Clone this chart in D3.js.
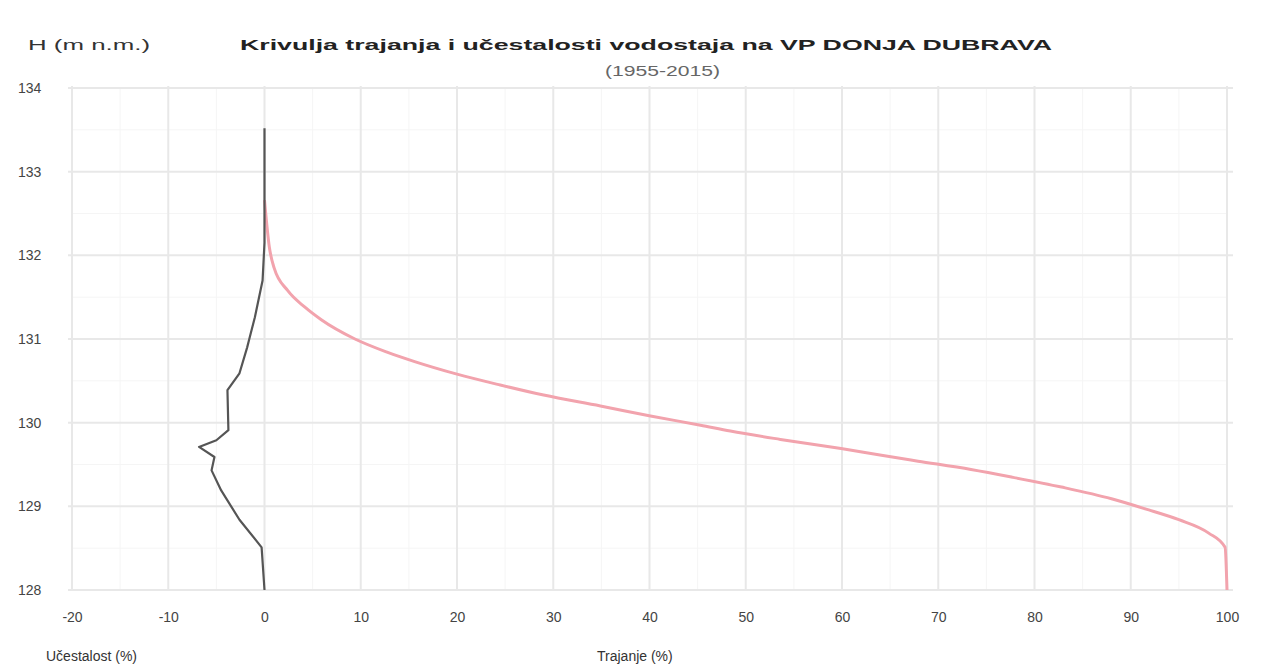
<!DOCTYPE html>
<html>
<head>
<meta charset="utf-8">
<script src="https://cdn.jsdelivr.net/npm/d3@7"></script>
<style>
  body { margin: 0; background: #fff; }
  svg text { font-family: "Liberation Sans", Arial, sans-serif; }
</style>
</head>
<body>
<svg id="chart" width="1266" height="666"></svg>
<script>
// duration curve (Trajanje %) -> water level H (m n.m.)
const durationPct = [0, 0.5, 1.0, 2.4, 4.2, 5.9, 9.4, 12.8, 15.6, 20.0, 24.5, 29.0, 34.9, 40.1, 45.3, 48.4, 53.6, 59.9, 64.1, 67.9, 73.4, 77.6, 82.8, 88.0, 91.5, 95.0, 98.1, 99.8, 100]
const durationH = [132.66, 132.1, 131.85, 131.58, 131.38, 131.23, 131.0, 130.84, 130.73, 130.58, 130.45, 130.33, 130.2, 130.08, 129.97, 129.9, 129.8, 129.69, 129.61, 129.54, 129.44, 129.35, 129.23, 129.09, 128.97, 128.84, 128.68, 128.51, 128.0]

// frequency curve (Učestalost %), drawn to the left as negative values
const freqPct = [0, 0, -0.2, -1.0, -1.6, -1.8, -2.6, -3.85, -3.75, -5.0, -6.8, -5.2, -5.5, -4.5, -2.6, -0.3, 0]
const freqH = [133.52, 132.15, 131.7, 131.26, 130.99, 130.9, 130.59, 130.39, 129.91, 129.79, 129.71, 129.59, 129.43, 129.19, 128.84, 128.51, 128.0]

const xTicks = [-20, -10, 0, 10, 20, 30, 40, 50, 60, 70, 80, 90, 100]
const yTicks = [128, 129, 130, 131, 132, 133, 134]

const title = 'Krivulja trajanja i učestalosti vodostaja na VP DONJA DUBRAVA'
const subtitle = '(1955-2015)'

const svg = d3.select('#chart')
const margin = {left: 72, right: 39, top: 88, bottom: 76}
const W = 1266, H = 666

const x = d3.scaleLinear().domain([-20, 100]).range([margin.left, W - margin.right])
const y = d3.scaleLinear().domain([128, 134]).range([H - margin.bottom, margin.top])

// minor grid
const grid = svg.append('g')
grid.selectAll('.vminor')
  .data(d3.range(-15, 100, 10))
  .join('line')
  .attr('x1', (d) => x(d)).attr('x2', (d) => x(d))
  .attr('y1', y(128)).attr('y2', y(134))
  .attr('stroke', '#f5f5f5').attr('stroke-width', 1)
grid.selectAll('.hminor')
  .data(d3.range(128.5, 134, 1))
  .join('line')
  .attr('x1', x(-20)).attr('x2', x(100))
  .attr('y1', (d) => y(d)).attr('y2', (d) => y(d))
  .attr('stroke', '#f5f5f5').attr('stroke-width', 1)

// major grid
grid.selectAll('.vmajor')
  .data(xTicks)
  .join('line')
  .attr('x1', (d) => x(d)).attr('x2', (d) => x(d))
  .attr('y1', y(128)).attr('y2', y(134) - 2)
  .attr('stroke', '#e8e8e8').attr('stroke-width', 2)
grid.selectAll('.hmajor')
  .data(yTicks)
  .join('line')
  .attr('x1', x(-20) - 4).attr('x2', x(100) + 6)
  .attr('y1', (d) => y(d)).attr('y2', (d) => y(d))
  .attr('stroke', '#e8e8e8').attr('stroke-width', 2)

// axes (labels only)
const xAxis = svg.append('g')
  .attr('transform', `translate(0,${H - margin.bottom + 8})`)
  .call(d3.axisBottom(x).tickValues(xTicks).tickSize(0).tickPadding(14).tickFormat((d) => String(d)))
xAxis.select('.domain').remove()
xAxis.selectAll('text')
  .attr('fill', '#444').style('font-size', '14px')

const yAxis = svg.append('g')
  .attr('transform', `translate(18,0)`)
  .call(d3.axisLeft(y).tickValues(yTicks).tickSize(0).tickPadding(0).tickFormat((d) => String(d)))
yAxis.select('.domain').remove()
yAxis.selectAll('text')
  .attr('text-anchor', 'start')
  .attr('fill', '#444').style('font-size', '14px')

// curves
svg.append('path')
  .datum(d3.zip(durationPct, durationH))
  .attr('d', d3.line().x((d) => x(d[0])).y((d) => y(d[1])).curve(d3.curveMonotoneX))
  .attr('fill', 'none')
  .attr('stroke', '#f2a3ad')
  .attr('stroke-width', 3)

svg.append('path')
  .datum(d3.zip(freqPct, freqH))
  .attr('d', d3.line().x((d) => x(d[0])).y((d) => y(d[1])))
  .attr('fill', 'none')
  .attr('stroke', '#555')
  .attr('stroke-width', 2.2)
  .attr('stroke-linejoin', 'round')

// texts
svg.append('text')
  .attr('x', 240).attr('y', 50)
  .attr('textLength', 812).attr('lengthAdjust', 'spacingAndGlyphs')
  .attr('fill', '#222').style('font-size', '15px').style('font-weight', 'bold')
  .text(title)

svg.append('text')
  .attr('x', 605).attr('y', 76)
  .attr('textLength', 115).attr('lengthAdjust', 'spacingAndGlyphs')
  .attr('fill', '#666').style('font-size', '14px')
  .text(subtitle)

svg.append('text')
  .attr('x', 28).attr('y', 50)
  .attr('textLength', 122).attr('lengthAdjust', 'spacingAndGlyphs')
  .attr('fill', '#333').style('font-size', '14px')
  .text('H (m n.m.)')

svg.append('text')
  .attr('x', 46).attr('y', 661)
  .attr('fill', '#333').style('font-size', '14px')
  .text('Učestalost (%)')

svg.append('text')
  .attr('x', 597).attr('y', 661)
  .attr('fill', '#333').style('font-size', '14px')
  .text('Trajanje (%)')
</script>
</body>
</html>
